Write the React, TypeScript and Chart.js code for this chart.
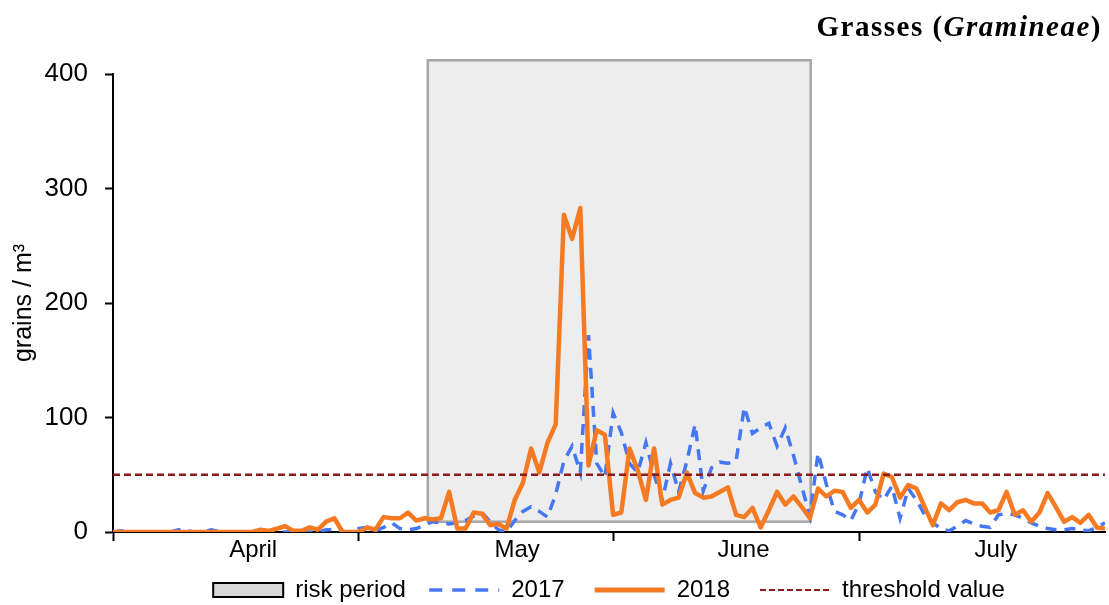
import React, { useEffect, useRef } from 'react';
import { Chart, registerables } from 'chart.js';

Chart.register(...registerables);

// Daily pollen counts, 1 April (index 0) to 31 July (index 121)
const values2017 = [
  0, 1, 0, 0, 0, 0, 0, 0, 2, 1,
  0, 0, 2, 0, 0, 0, 0, 0, 0, 0,
  0, 0, 0, 0, 0, 0, 2, 2, 0, 0,
  3, 4, 1, 4, 8, 3, 2, 3, 6, 9,
  8, 7, 8, 10, 14, 17, 9, 2, 0, 10,
  18, 22, 18, 13, 33, 62, 75, 52, 172, 60,
  48, 104, 87, 60, 52, 78, 50, 28, 60, 35,
  62, 94, 36, 56, 61, 60, 62, 109, 86, 91,
  95, 75, 91, 67, 40, 14, 69, 42, 18, 15,
  10, 25, 56, 35, 28, 40, 12, 38, 28, 15,
  8, 3, 1, 5, 10, 7, 5, 4, 15, 16,
  15, 12, 8, 5, 3, 2, 2, 3, 2, 1,
  4, 8,
];

const values2018 = [
  0, 0, 0, 0, 0, 0, 0, 0, 0, 0,
  0, 0, 0, 0, 0, 0, 0, 0, 2, 1,
  3, 5, 1, 1, 4, 2, 9, 12, 0, 0,
  0, 4, 2, 13, 12, 12, 17, 10, 12, 11,
  12, 35, 3, 3, 17, 16, 6, 7, 3, 28,
  43, 73, 52, 78, 94, 277, 256, 283, 58, 89,
  85, 15, 17, 73, 54, 28, 73, 24, 28, 30,
  52, 34, 30, 31, 35, 39, 15, 13, 21, 4,
  19, 35, 24, 31, 22, 12, 38, 31, 36, 35,
  21, 28, 17, 24, 51, 48, 30, 41, 38, 22,
  6, 25, 19, 26, 28, 25, 25, 17, 19, 35,
  15, 19, 9, 17, 34, 22, 9, 13, 8, 15,
  4, 3,
];

const thresholdValue = 50;
const riskPeriodDays = [38.4, 85.1];
const riskPeriodRange = [9, 412];
const monthStartDays = [0, 30, 61, 91];
const monthLabels = ['April', 'May', 'June', 'July'];
const monthLabelDays = [17.1, 49.3, 76.9, 107.7];
const yTickValues = [0, 100, 200, 300, 400];
const lastDay = 121;

const FONT = 'Arial, "Liberation Sans", sans-serif';
const BLUE = '#4677F2';
const ORANGE = '#F57A22';
const DARKRED = '#8E1B1B';

export default function App() {
  const ref = useRef<HTMLCanvasElement>(null);

  useEffect(() => {
    if (!ref.current) return;
    const toPoints = (arr: number[]) => arr.map((v, i) => ({ x: i, y: v }));

    const riskPlugin = {
      id: 'riskBox',
      beforeDatasetsDraw(chart: any) {
        const { ctx, scales } = chart;
        const x0 = scales.x.getPixelForValue(riskPeriodDays[0]);
        const x1 = scales.x.getPixelForValue(riskPeriodDays[1]);
        const y0 = scales.y.getPixelForValue(riskPeriodRange[1]);
        const y1 = scales.y.getPixelForValue(riskPeriodRange[0]);
        ctx.save();
        ctx.fillStyle = '#EDEDED';
        ctx.fillRect(x0, y0, x1 - x0, y1 - y0);
        ctx.strokeStyle = '#A6A6A6';
        ctx.lineWidth = 2.5;
        ctx.strokeRect(x0, y0, x1 - x0, y1 - y0);
        ctx.restore();
      },
    };

    const chart = new Chart(ref.current, {
      type: 'line',
      data: {
        datasets: [
          {
            label: '2017',
            data: toPoints(values2017),
            borderColor: BLUE,
            borderWidth: 3.5,
            borderDash: [11, 8],
            pointRadius: 0,
            tension: 0,
            order: 3,
          },
          {
            label: '2018',
            data: toPoints(values2018),
            borderColor: ORANGE,
            borderWidth: 4.5,
            borderJoinStyle: 'round',
            pointRadius: 0,
            tension: 0,
            order: 2,
          },
          {
            label: 'threshold value',
            data: [
              { x: 0, y: thresholdValue },
              { x: lastDay, y: thresholdValue },
            ],
            borderColor: DARKRED,
            borderWidth: 2.5,
            borderDash: [7, 4],
            pointRadius: 0,
            order: 1,
          },
        ],
      },
      plugins: [riskPlugin],
      options: {
        animation: false,
        responsive: true,
        maintainAspectRatio: false,
        layout: { padding: { left: 0, right: 4, top: 74, bottom: -7 } },
        plugins: {
          tooltip: { enabled: false },
          legend: {
            position: 'bottom',
            fullSize: false,
            onClick: () => {},
            labels: {
              usePointStyle: true,
              pointStyleWidth: 70,
              boxHeight: 14,
              padding: 10,
              color: '#000',
              font: { family: FONT, size: 24 },
              generateLabels: () => [
                { text: 'risk period  ', fillStyle: '#D9D9D9', strokeStyle: '#000', lineWidth: 2, lineDash: [], pointStyle: 'rect', hidden: false, fontColor: '#000' },
                { text: '2017   ', fillStyle: 'rgba(0,0,0,0)', strokeStyle: BLUE, lineWidth: 3.5, lineDash: [13, 10], pointStyle: 'line', hidden: false, fontColor: '#000' },
                { text: '2018   ', fillStyle: 'rgba(0,0,0,0)', strokeStyle: ORANGE, lineWidth: 5, lineDash: [], pointStyle: 'line', hidden: false, fontColor: '#000' },
                { text: 'threshold value', fillStyle: 'rgba(0,0,0,0)', strokeStyle: DARKRED, lineWidth: 2, lineDash: [6, 3], pointStyle: 'line', hidden: false, fontColor: '#000' },
              ],
            },
          },
        },
        scales: {
          x: {
            type: 'linear',
            min: 0,
            max: lastDay,
            afterBuildTicks: (s: any) => {
              s.ticks = [...monthStartDays, ...monthLabelDays]
                .sort((a, b) => a - b)
                .map((v) => ({ value: v }));
            },
            afterFit: (s: any) => {
              s.height = 36;
            },
            border: { display: true, color: '#000', width: 2 },
            grid: {
              drawOnChartArea: false,
              drawTicks: true,
              tickLength: 9,
              tickWidth: 2,
              tickColor: (c: any) =>
                c.tick && monthStartDays.includes(c.tick.value) ? '#000' : 'rgba(0,0,0,0)',
            },
            ticks: {
              autoSkip: false,
              maxRotation: 0,
              padding: -5,
              color: '#000',
              font: { family: FONT, size: 24 },
              callback: (v: any) => {
                const i = monthLabelDays.indexOf(v);
                return i >= 0 ? monthLabels[i] : '';
              },
            },
          },
          y: {
            min: 0,
            max: 400,
            afterBuildTicks: (s: any) => {
              s.ticks = yTickValues.map((v) => ({ value: v }));
            },
            afterFit: (s: any) => {
              s.width = 113;
            },
            border: { display: true, color: '#000', width: 2 },
            grid: { drawOnChartArea: false, drawTicks: true, tickLength: 8, tickWidth: 2, tickColor: '#000' },
            ticks: { padding: 17, color: '#000', font: { family: FONT, size: 26 } },
            title: {
              display: true,
              text: 'grains / m³',
              color: '#000',
              font: { family: FONT, size: 25 },
              padding: { top: 9, bottom: 0 },
            },
          },
        },
      },
    } as any);

    return () => chart.destroy();
  }, []);

  return (
    <div style={{ position: 'fixed', left: 0, top: 0, width: 1109, height: 605, background: '#fff' }}>
      <canvas ref={ref} />
      <div
        style={{
          position: 'absolute',
          right: 7,
          top: 12,
          fontFamily: '"Times New Roman", "Liberation Serif", serif',
          fontWeight: 'bold',
          fontSize: 29,
          lineHeight: '29px',
          letterSpacing: 1.5,
          color: '#000',
          whiteSpace: 'nowrap',
        }}
      >
        Grasses (<i>Gramineae</i>)
      </div>
    </div>
  );
}
